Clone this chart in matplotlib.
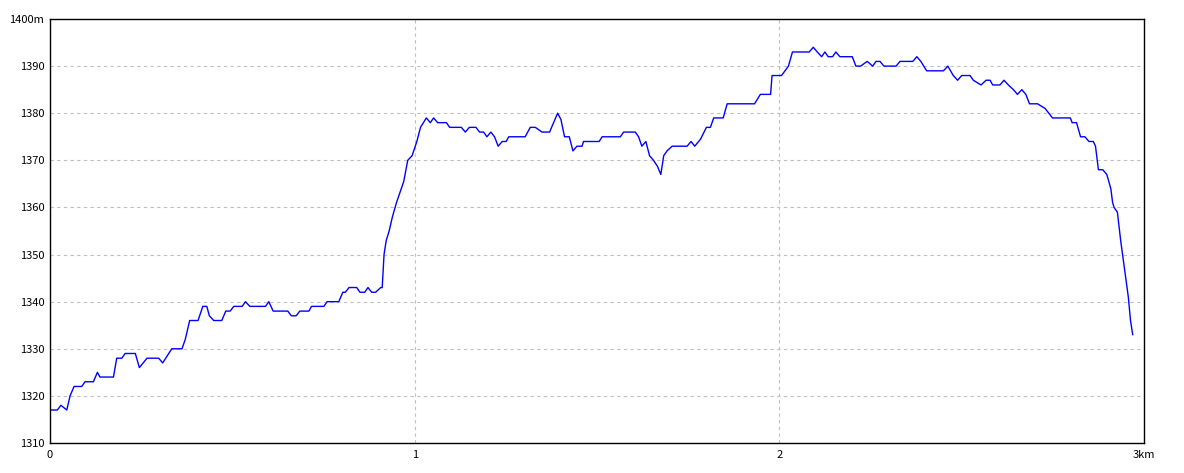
import matplotlib
matplotlib.use("Agg")
import matplotlib.pyplot as plt

# 距離 (km) と標高 (m) — 画像から読み取り
dist_km = [
    0.000, 0.020, 0.030, 0.046, 0.055, 0.066, 0.087, 0.096, 0.119, 0.130,
    0.137, 0.174, 0.183, 0.197, 0.206, 0.234, 0.245, 0.266, 0.298, 0.309,
    0.334, 0.362, 0.371, 0.383, 0.406, 0.419, 0.430, 0.437, 0.449, 0.471,
    0.482, 0.494, 0.504, 0.527, 0.536, 0.548, 0.591, 0.600, 0.612, 0.652,
    0.662, 0.675, 0.685, 0.710, 0.717, 0.751, 0.760, 0.792, 0.803, 0.810,
    0.820, 0.841, 0.850, 0.863, 0.872, 0.882, 0.893, 0.907, 0.911, 0.916,
    0.922, 0.930, 0.939, 0.950, 0.970, 0.981, 0.993, 1.006, 1.016, 1.032,
    1.043, 1.052, 1.063, 1.087, 1.096, 1.128, 1.139, 1.150, 1.168, 1.178,
    1.189, 1.198, 1.209, 1.219, 1.229, 1.240, 1.251, 1.258, 1.303, 1.317,
    1.331, 1.349, 1.370, 1.381, 1.392, 1.401, 1.411, 1.424, 1.434, 1.445,
    1.459, 1.463, 1.506, 1.514, 1.564, 1.573, 1.605, 1.614, 1.623, 1.634,
    1.644, 1.655, 1.666, 1.675, 1.683, 1.692, 1.706, 1.747, 1.758, 1.768,
    1.784, 1.800, 1.811, 1.820, 1.846, 1.857, 1.932, 1.948, 1.976, 1.980,
    2.006, 2.025, 2.036, 2.082, 2.093, 2.104, 2.116, 2.125, 2.134, 2.146,
    2.155, 2.166, 2.200, 2.210, 2.223, 2.241, 2.256, 2.265, 2.276, 2.287,
    2.320, 2.331, 2.366, 2.377, 2.388, 2.404, 2.450, 2.462, 2.477, 2.489,
    2.500, 2.523, 2.532, 2.553, 2.567, 2.578, 2.585, 2.605, 2.616, 2.628,
    2.642, 2.653, 2.665, 2.676, 2.686, 2.708, 2.729, 2.749, 2.798, 2.803,
    2.815, 2.826, 2.838, 2.849, 2.861, 2.867, 2.875, 2.887, 2.898, 2.909,
    2.914, 2.918, 2.927, 2.936, 2.943, 2.950, 2.957, 2.963, 2.969,
]
elev_m = [
    1317, 1317, 1318, 1317, 1320, 1322, 1322, 1323, 1323, 1325,
    1324, 1324, 1328, 1328, 1329, 1329, 1326, 1328, 1328, 1327,
    1330, 1330, 1332, 1336, 1336, 1339, 1339, 1337, 1336, 1336,
    1338, 1338, 1339, 1339, 1340, 1339, 1339, 1340, 1338, 1338,
    1337, 1337, 1338, 1338, 1339, 1339, 1340, 1340, 1342, 1342,
    1343, 1343, 1342, 1342, 1343, 1342, 1342, 1343, 1343, 1350,
    1353, 1355, 1358, 1361, 1365.5, 1370, 1371, 1374, 1377, 1379,
    1378, 1379, 1378, 1378, 1377, 1377, 1376, 1377, 1377, 1376,
    1376, 1375, 1376, 1375, 1373, 1374, 1374, 1375, 1375, 1377,
    1377, 1376, 1376, 1378, 1380, 1378.7, 1375, 1375, 1372, 1373,
    1373, 1374, 1374, 1375, 1375, 1376, 1376, 1375, 1373, 1374,
    1371, 1370, 1368.7, 1367, 1371, 1372, 1373, 1373, 1374, 1373,
    1374.5, 1377, 1377, 1379, 1379, 1382, 1382, 1384, 1384, 1388,
    1388, 1390, 1393, 1393, 1394, 1393, 1392, 1393, 1392, 1392,
    1393, 1392, 1392, 1390, 1390, 1391, 1390, 1391, 1391, 1390,
    1390, 1391, 1391, 1392, 1391, 1389, 1389, 1390, 1388, 1387,
    1388, 1388, 1387, 1386, 1387, 1387, 1386, 1386, 1387, 1386,
    1385, 1384, 1385, 1384, 1382, 1382, 1381, 1379, 1379, 1378,
    1378, 1375, 1375, 1374, 1374, 1373, 1368, 1368, 1367, 1364,
    1361, 1360, 1359, 1353, 1349, 1345, 1341, 1336, 1333,
]

x_ticks = [0, 1, 2, 3]
x_labels = ["0", "1", "2", "3km"]
y_ticks = [1310, 1320, 1330, 1340, 1350, 1360, 1370, 1380, 1390, 1400]
y_labels = ["1310", "1320", "1330", "1340", "1350", "1360", "1370", "1380", "1390", "1400m"]

plt.rcParams["font.family"] = ["Noto Sans CJK JP", "DejaVu Sans"]

W, H = 1184, 473
fig = plt.figure(figsize=(W / 100, H / 100), dpi=100)
ax = fig.add_axes([50 / W, (H - 443) / H, (1144 - 50) / W, (443 - 19) / H])

ax.plot(dist_km, elev_m, color="#0000ff", lw=1.0)

ax.set_xlim(0, 3)
ax.set_ylim(1310, 1400)
ax.set_xticks(x_ticks)
ax.set_xticklabels(x_labels)
ax.set_yticks(y_ticks)
ax.set_yticklabels(y_labels)
ax.tick_params(length=0, labelsize=8, colors="black")
ax.tick_params(axis="x", pad=5)
ax.tick_params(axis="y", pad=4)
ax.grid(True, color="#c0c0c0", linestyle=(0, (3, 3)), lw=0.8)
for s in ax.spines.values():
    s.set_color("black")
    s.set_linewidth(1.0)

fig.savefig("out.png", dpi=100)
